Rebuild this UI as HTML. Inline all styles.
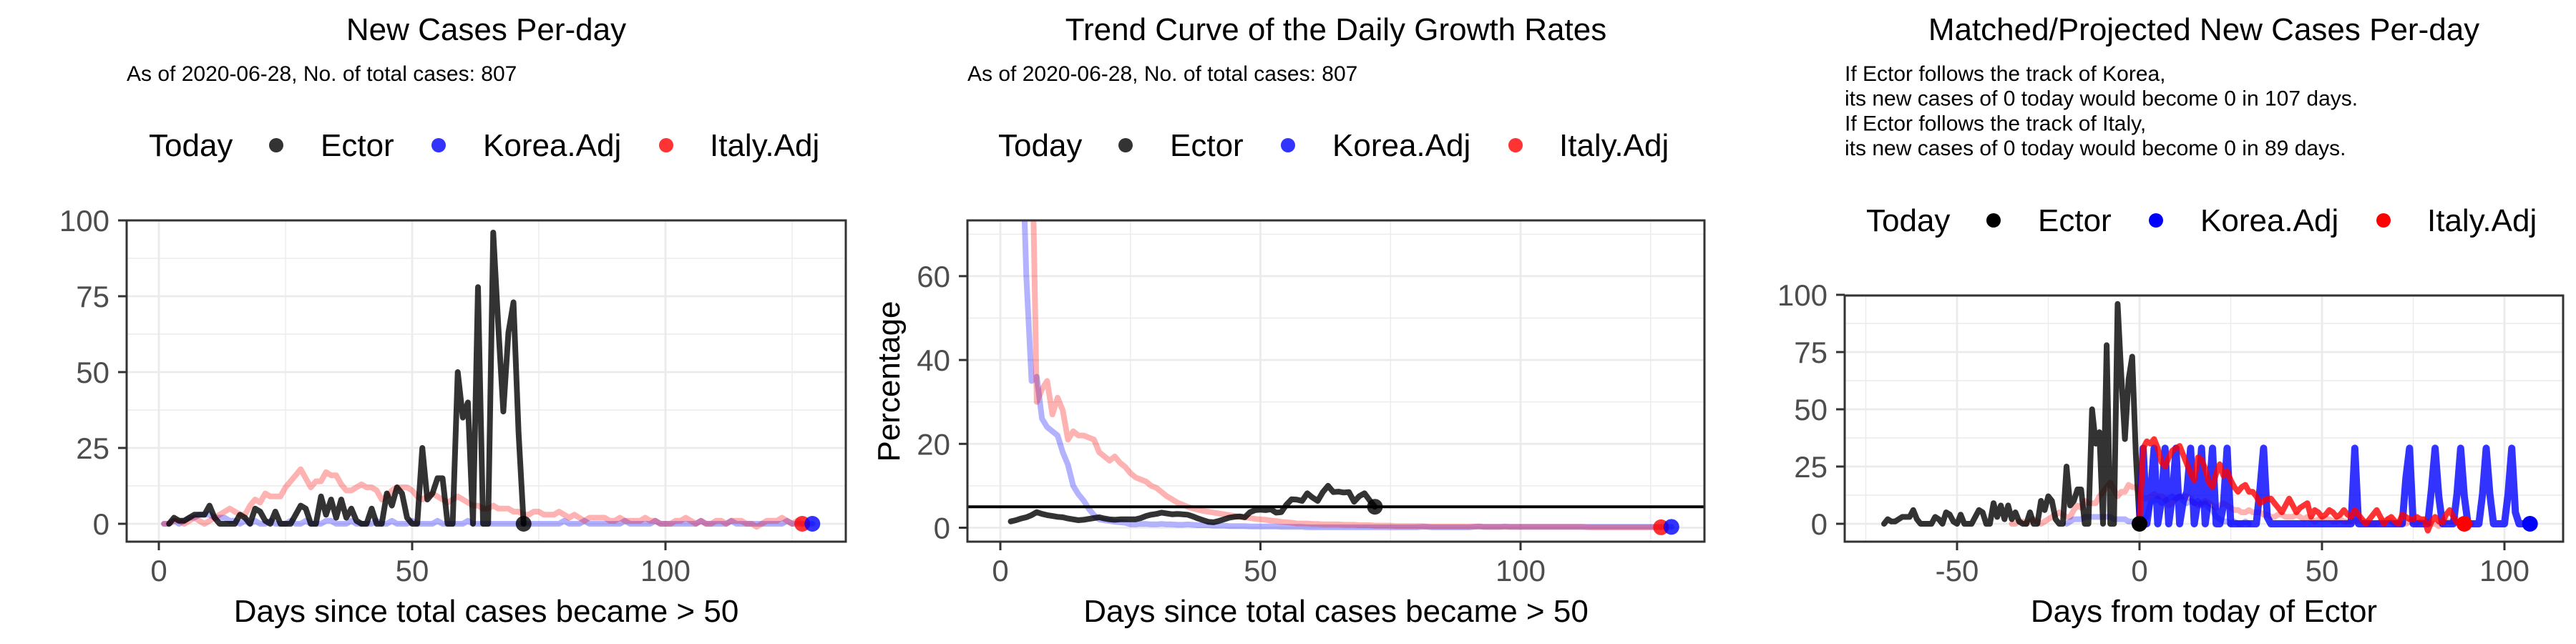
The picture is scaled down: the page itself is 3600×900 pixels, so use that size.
<!DOCTYPE html>
<html><head><meta charset="utf-8"><style>
html,body{margin:0;padding:0;background:#fff;}
svg{display:block;font-family:"Liberation Sans",Arial,sans-serif;}
</style></head><body>
<svg id="chart" width="3600" height="900" viewBox="0 0 3600 900" xmlns="http://www.w3.org/2000/svg"></svg>
<script>
// ---- data ----
const ectorStartDay = 2;
const ectorNew = [0,2,1,1,2,3,3,3,6,2,0,0,0,0,3,2,0,5,4,1,0,4,0,0,0,3,6,5,0,0,9,3,8,2,8,2,5,1,0,0,5,0,0,10,6,12,10,2,0,0,25,8,10,15,15,0,0,50,35,40,0,78,0,0,96,65,37,63,73,30,0];
const koreaStartDay = 1;
const koreaNew = [0,0,1,0,1,2,2,3,3,3,2,2,2,1,1,0,1,0,1,0,0,1,0,0,0,1,0,0,1,0,0,0,1,1,0,0,0,1,0,0,0,0,1,0,0,1,0,0,0,1,0,0,0,0,1,0,0,0,0,0,1,0,0,0,0,0,0,0,0,0,0,0,0,0,0,0,0,0,0,1,0,0,0,1,0,0,0,0,0,0,0,1,0,0,0,0,0,1,0,0,0,0,0,0,0,0,1,0,0,0,0,0,1,0,0,0,0,0,0,0,0,0,0,1,0,0,0,0,0];
const italyStartDay = 1;
const italyNew = [0,0,1,1,0,1,2,1,0,1,2,3,4,5,4,3,3,6,8,7,10,9,9,9,12,14,16,18,15,12,14,14,17,16,16,13,11,11,12,13,12,12,11,8,9,11,12,12,12,11,9,8,9,10,9,8,7,8,9,8,7,6,6,5,5,6,5,5,5,4,4,3,3,4,4,3,3,3,4,3,2,3,2,1,2,2,2,2,1,1,2,1,1,1,1,2,1,1,0,0,0,1,1,2,1,0,1,0,0,1,1,0,1,1,1,0,0,-1,0,1,1,1,2,1,0,1,0];

const ectorGrowth = [1.5,1.8,2.2,2.5,3,3.7,3.3,3,2.8,2.6,2.5,2.2,2,1.8,1.9,2.1,2.3,2.5,2.2,2,1.9,2,2,2,2,2.3,2.8,3.1,3.3,3.6,3.4,3.2,3.3,3.2,3.1,2.7,2.2,1.8,1.4,1.3,1.6,2,2.4,2.6,2.7,2.5,3.7,4.2,4.3,4.2,4.4,3.6,3.7,5.5,6.8,6.7,6.4,8.2,7.2,6.4,8.5,10,8.5,8.6,8.4,8.5,6.2,7.5,8.2,6.5,5];
const koreaGrowth = [100,100,100,100,60,35,36,26,24,23,22,18,15,10,8,6.5,4.5,3,2,1.8,1.6,1.4,1.3,1.2,0.8,0.8,0.9,0.9,0.8,0.8,0.9,0.8,0.8,0.7,0.7,0.8,0.7,0.6,0.6,0.6,0.5,0.5,0.5,0.4,0.4,0.4,0.4,0.3,0.3,0.3,0.3,0.3,0.3,0.2,0.2,0.2,0.2,0.2,0.1,0.1,0.1,0.1,0.1,0.1,0.1,0.1,0.1,0.1,0.1,0.1,0.1,0.1,0.1,0.1,0.1,0.1,0.1,0.1,0.1,0.1,0.2,0.2,0.1,0.1,0.1,0.1,0.1,0.1,0.1,0.1,0.2,0.3,0.2,0.2,0.2,0.2,0.3,0.2,0.2,0.2,0.2,0.2,0.2,0.2,0.2,0.2,0.2,0.2,0.2,0.2,0.2,0.2,0.2,0.2,0.2,0.2,0.2,0.2,0.2,0.2,0.2,0.2,0.2,0.2,0.2,0.2,0.2,0.2,0.2];
const italyGrowth = [100,100,100,100,100,100,30,33,35,27,31,28,21,23,22,22,21.5,21,18,17,16,17,15.5,14.5,13,12,11.5,11,10,9.5,8.5,7.5,6.8,6,5.5,5,4.6,4.3,4,3.8,3.6,3.4,3.2,3,2.8,2.6,2.5,2.3,2.1,2,1.9,1.7,1.6,1.4,1.3,1.2,1,1,1,0.9,0.9,0.8,0.8,0.8,0.8,0.7,0.7,0.7,0.6,0.6,0.6,0.5,0.5,0.5,0.5,0.4,0.4,0.4,0.4,0.4,0.4,0.3,0.3,0.3,0.3,0.3,0.3,0.3,0.3,0.3,0.3,0.3,0.2,0.2,0.2,0.2,0.2,0.2,0.2,0.2,0.2,0.2,0.2,0.2,0.2,0.2,0.2,0.2,0.2,0.2,0.2,0.2,0.1,0.1,0.1,0.1,0.1,0.1,0.1,0.1,0.1,0.1,0.1,0.1,0.1,0.1,0.1];
const refGrowthLine = 5;

const ectorShift = -72;
const italyMatchedShift = -36;
const koreaMatchedStart = -20;
const koreaMatched = [0,1,2,2,2,3,3,3,3,3,3,3,3,2,2,2,2,1,1,1,1,2,3,9,10,11,9,10,11,12,11,12,10,9,10,9,10,8,9,7,6,3,2,1,1,0,1,0,0,1,0];
const koreaProjected = [0,33,0,12,33,0,10,33,0,12,33,0,10,14,33,0,10,33,0,12,33,0,0,8,33,0,0,0,0,0,0,0,0,15,33,3,0,0,0,0,0,0,0,0,0,0,0,0,0,0,0,0,0,0,0,0,0,0,0,33,0,0,0,0,0,0,0,0,0,0,0,0,0,20,33,0,0,0,0,0,15,33,12,0,0,0,0,13,33,12,0,0,0,0,13,33,13,0,0,0,0,13,33,5,0,0,0,0];
const italyProjected = [0,33,36,35,37,33,27,25,29,32,33,34,30,26,22,19,29,28,24,18,16,22,26,21,23,19,16,14,16,17,14,14,12,9,10,11,11,9,7,5,8,11,8,5,7,8,9,3,6,5,3,4,6,5,3,4,6,4,3,6,4,2,0,2,4,6,3,0,2,3,1,0,4,3,2,2,3,2,2,-3,1,3,1,0.5,4,6,3,0.5,1,0];

const yTicksCases = [0,25,50,75,100];
const yTicksPct = [0,20,40,60];
const xTicksDays = [0,50,100];
const xTicksFromToday = [-50,0,50,100];

// ---- helpers ----
const svg = document.getElementById('chart');
const NS = 'http://www.w3.org/2000/svg';
function mk(tag, attrs, parent){
  const e = document.createElementNS(NS, tag);
  for (const k in attrs) e.setAttribute(k, attrs[k]);
  (parent||svg).appendChild(e);
  return e;
}
function txt(str, attrs, parent){ const t = mk('text', attrs, parent); t.textContent = str; return t; }

function panel(cfg){
  const g = mk('g', {});
  
  
  const {L,R,T,B} = cfg;
  const sx = v => cfg.x0 + (v - cfg.xv0) * cfg.xk;
  const sy = v => cfg.y0 - v * cfg.yk;
  cfg.sx = sx; cfg.sy = sy;
  const cid = 'clip-' + cfg.name;
  const cp = mk('clipPath', {id: cid}, g);
  mk('rect', {x:L, y:T, width:R-L, height:B-T}, cp);
  const grid = mk('g', {}, g);
  
  
  cfg.yMinor.forEach(v => mk('line',{x1:L,x2:R,y1:sy(v),y2:sy(v),stroke:'#ebebeb','stroke-width':1.4},grid));
  cfg.xMinor.forEach(v => mk('line',{x1:sx(v),x2:sx(v),y1:T,y2:B,stroke:'#ebebeb','stroke-width':1.4},grid));
  cfg.yTicks.forEach(v => mk('line',{x1:L,x2:R,y1:sy(v),y2:sy(v),stroke:'#ebebeb','stroke-width':2.8},grid));
  cfg.xTicks.forEach(v => mk('line',{x1:sx(v),x2:sx(v),y1:T,y2:B,stroke:'#ebebeb','stroke-width':2.8},grid));
  const plot = mk('g', {'clip-path':'url(#'+cid+')'}, g);
  cfg.plot = plot;
  cfg.yTicks.forEach(v => {
    mk('line',{x1:L-12,x2:L,y1:sy(v),y2:sy(v),stroke:'#333','stroke-width':3},g);
    const t = txt(String(v),{x:L-24,y:sy(v)+15,'text-anchor':'end','font-size':42,fill:'#4d4d4d'},g);
    
    
  });
  cfg.xTicks.forEach(v => {
    mk('line',{x1:sx(v),x2:sx(v),y1:B,y2:B+12,stroke:'#333','stroke-width':3},g);
    const t = txt(String(v),{x:sx(v),y:B+55,'text-anchor':'middle','font-size':42,fill:'#4d4d4d'},g);
    
    
  });
  const xt = txt(cfg.xTitle,{x:(L+R)/2,y:869,'text-anchor':'middle','font-size':44,fill:'#000'},g);
  
  
  const tt = txt(cfg.title,{x:(L+R)/2,y:56,'text-anchor':'middle','font-size':44,fill:'#000'},g);
  
  
  cfg.sub.forEach((s,i) => {
    const st = txt(s,{x:cfg.subX,y:113+i*34.7,'font-size':30,fill:'#000'},g);
    
    
  });
  const lg = mk('g',{},g);
  
  
  const Lx = cfg.legX, by = cfg.legY;
  txt('Today',{x:Lx,y:by,'font-size':44,fill:'#000'},lg);
  const items = [['Ector',178,240,cfg.legColors[0]],['Korea.Adj',405,467,cfg.legColors[1]],['Italy.Adj',723,784,cfg.legColors[2]]];
  items.forEach(it => {
    const c = mk('circle',{cx:Lx+it[1],cy:by-15,r:10,fill:it[3]},lg);
    
    
    txt(it[0],{x:Lx+it[2],y:by,'font-size':44,fill:'#000'},lg);
  });
  cfg.g = g;
  return cfg;
}
function series(cfg, arr, start, color, width, name){
  const pts = arr.map((v,i) => cfg.sx(start+i).toFixed(1)+','+cfg.sy(v).toFixed(1)).join(' ');
  const p = mk('polyline',{points:pts,fill:'none',stroke:color,'stroke-width':width,'stroke-linejoin':'round','stroke-linecap':'round'},cfg.plot);
  
  
  return p;
}
function dot(cfg, x, v, color, name){
  const c = mk('circle',{cx:cfg.sx(x),cy:cfg.sy(v),r:11,fill:color},cfg.plot);
  
  
}
function border(cfg){
  const r = mk('rect',{x:cfg.L,y:cfg.T,width:cfg.R-cfg.L,height:cfg.B-cfg.T,fill:'none',stroke:'#333','stroke-width':3},cfg.g);
  
  
}

const pBlue = 'rgba(0,0,255,0.3)', pRed = 'rgba(255,0,0,0.3)', dBlack = 'rgba(0,0,0,0.8)';
const legA = ['rgba(0,0,0,0.8)','rgba(0,0,255,0.8)','rgba(255,0,0,0.8)'];
const LW = 8;

// ---- panel 1 ----
const p1 = panel({name:'new-cases-panel',L:177,R:1182,T:308,B:757,x0:222,xv0:0,xk:7.08,y0:732,yk:4.24,
  yTicks:yTicksCases,yMinor:[12.5,37.5,62.5,87.5],xTicks:xTicksDays,xMinor:[25,75,125],
  xTitle:'Days since total cases became > 50',title:'New Cases Per-day',
  sub:['As of 2020-06-28, No. of total cases: 807'],subX:177,legX:208,legY:218,legColors:legA});
series(p1, koreaNew, koreaStartDay, pBlue, LW, 'korea-line');
series(p1, italyNew, italyStartDay, pRed, LW, 'italy-line');
series(p1, ectorNew, ectorStartDay, dBlack, LW, 'ector-line');
dot(p1, ectorStartDay+ectorNew.length-1, ectorNew[ectorNew.length-1], dBlack, 'ector-today-point');
dot(p1, italyStartDay+italyNew.length-1, italyNew[italyNew.length-1], 'rgba(255,0,0,0.8)', 'italy-end-point');
dot(p1, koreaStartDay+koreaNew.length-1, koreaNew[koreaNew.length-1], 'rgba(0,0,255,0.8)', 'korea-end-point');
border(p1);

// ---- panel 2 ----
const p2 = panel({name:'growth-rate-panel',L:1352,R:2382,T:308,B:757,x0:1398,xv0:0,xk:7.27,y0:737.5,yk:5.86,
  yTicks:yTicksPct,yMinor:[10,30,50,70],xTicks:xTicksDays,xMinor:[25,75,125],
  xTitle:'Days since total cases became > 50',title:'Trend Curve of the Daily Growth Rates',
  sub:['As of 2020-06-28, No. of total cases: 807'],subX:1352,legX:1395,legY:218,legColors:legA});
series(p2, koreaGrowth, 1, pBlue, LW, 'korea-growth-line');
series(p2, italyGrowth, 1, pRed, LW, 'italy-growth-line');
series(p2, ectorGrowth, ectorStartDay, dBlack, LW, 'ector-growth-line');
const hl = mk('line',{x1:p2.L,x2:p2.R,y1:p2.sy(refGrowthLine),y2:p2.sy(refGrowthLine),stroke:'#000','stroke-width':4},p2.plot);


dot(p2, ectorStartDay+ectorGrowth.length-1, ectorGrowth[ectorGrowth.length-1], dBlack, 'ector-today-point');
dot(p2, italyGrowth.length, italyGrowth[italyGrowth.length-1], 'rgba(255,0,0,0.8)', 'italy-end-point');
dot(p2, koreaGrowth.length, koreaGrowth[koreaGrowth.length-1], 'rgba(0,0,255,0.8)', 'korea-end-point');
const yl = txt('Percentage',{x:0,y:0,'text-anchor':'middle','font-size':44,fill:'#000',transform:'translate(1257,533) rotate(-90)'},p2.g);


border(p2);

// ---- panel 3 ----
const p3 = panel({name:'projection-panel',L:2578,R:3582,T:413,B:757,x0:2990,xv0:0,xk:5.1,y0:732,yk:3.2,
  yTicks:yTicksCases,yMinor:[12.5,37.5,62.5,87.5],xTicks:xTicksFromToday,xMinor:[-75,-25,25,75],
  xTitle:'Days from today of Ector',title:'Matched/Projected New Cases Per-day',
  sub:['If Ector follows the track of Korea,','its new cases of 0 today would become 0 in 107 days.','If Ector follows the track of Italy,','its new cases of 0 today would become 0 in 89 days.'],
  subX:2578,legX:2608,legY:323,legColors:['#000','#0000ff','#ff0000']});
series(p3, italyNew, italyStartDay+italyMatchedShift, pRed, LW, 'italy-matched-line');
series(p3, koreaMatched, koreaMatchedStart, pBlue, LW, 'korea-matched-line');
series(p3, ectorNew, ectorStartDay+ectorShift, dBlack, LW, 'ector-line');
series(p3, koreaProjected, 0, 'rgba(0,0,255,0.8)', 10, 'korea-projected-line');
series(p3, italyProjected, 0, 'rgba(255,0,0,0.8)', 8, 'italy-projected-line');
dot(p3, 0, 0, '#000', 'ector-today-point');
dot(p3, italyProjected.length-1, 0, '#ff0000', 'italy-zero-point');
dot(p3, koreaProjected.length-1, 0, '#0000ff', 'korea-zero-point');
border(p3);
</script>
</body></html>
